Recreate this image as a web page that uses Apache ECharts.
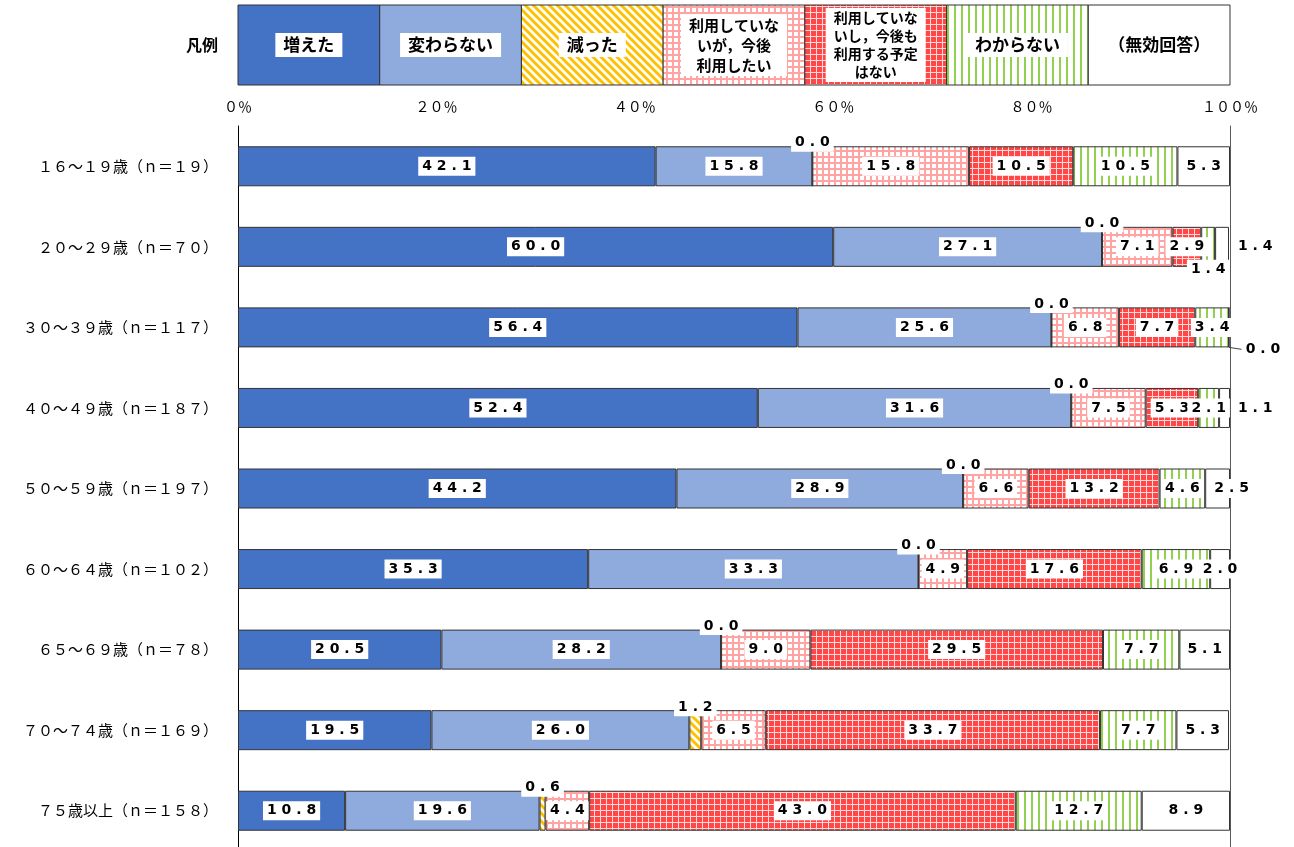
<!DOCTYPE html>
<html><head><meta charset="utf-8">
<script src="https://cdn.jsdelivr.net/npm/echarts@6/dist/echarts.min.js"></script>
<style>html,body{margin:0;padding:0;background:#fff}#c{width:1294px;height:847px}</style>
</head><body><div id="c"></div>
<script>
// ---- data ----
const categories = ['１６～１９歳（ｎ＝１９）','２０～２９歳（ｎ＝７０）','３０～３９歳（ｎ＝１１７）','４０～４９歳（ｎ＝１８７）','５０～５９歳（ｎ＝１９７）','６０～６４歳（ｎ＝１０２）','６５～６９歳（ｎ＝７８）','７０～７４歳（ｎ＝１６９）','７５歳以上（ｎ＝１５８）'];
const seriesNames = ['増えた','変わらない','減った','利用していないが，今後利用したい','利用していないし，今後も利用する予定はない','わからない','（無効回答）'];
const legendTexts = ['増えた','変わらない','減った','利用していな\nいが，今後\n利用したい','利用していな\nいし，今後も\n利用する予定\nはない','わからない','（無効回答）'];
const increased = [42.1, 60.0, 56.4, 52.4, 44.2, 35.3, 20.5, 19.5, 10.8];
const unchanged = [15.8, 27.1, 25.6, 31.6, 28.9, 33.3, 28.2, 26.0, 19.6];
const decreased = [0.0, 0.0, 0.0, 0.0, 0.0, 0.0, 0.0, 1.2, 0.6];
const wantToUse = [15.8, 7.1, 6.8, 7.5, 6.6, 4.9, 9.0, 6.5, 4.4];
const noPlan = [10.5, 2.9, 7.7, 5.3, 13.2, 17.6, 29.5, 33.7, 43.0];
const unknown = [10.5, 1.4, 3.4, 2.1, 4.6, 6.9, 7.7, 7.7, 12.7];
const invalid = [5.3, 1.4, 0.0, 1.1, 2.5, 2.0, 5.1, 5.3, 8.9];
const tickLabels = ['０％','２０％','４０％','６０％','８０％','１００％'];
const allValues = [increased, unchanged, decreased, wantToUse, noPlan, unknown, invalid];

// ---- patterns ----
function mk(w, h, draw) { const c = document.createElement('canvas'); c.width = w; c.height = h; const g = c.getContext('2d'); draw(g, w, h); return c; }
const stripe = mk(8, 8, (g, w, h) => {
  g.fillStyle = '#fff'; g.fillRect(0, 0, w, h);
  g.strokeStyle = '#FFC000'; g.lineWidth = 3;
  for (let k = -1; k <= 1; k++) { g.beginPath(); g.moveTo(k * 8 - 2, -2); g.lineTo(k * 8 + 10, 10); g.stroke(); }
});
const pinkGrid = mk(6, 6, (g, w, h) => {
  g.fillStyle = '#fff'; g.fillRect(0, 0, w, h);
  g.fillStyle = '#FFA3A3'; g.fillRect(0, 0, w, 2); g.fillRect(0, 0, 2, h);
});
const redGrid = mk(6, 6, (g, w, h) => {
  g.fillStyle = '#FF4747'; g.fillRect(0, 0, w, h);
  g.fillStyle = '#FFDADA'; g.fillRect(0, 0, w, 1); g.fillRect(0, 0, 1, h);
});
const greenLines = mk(7, 4, (g, w, h) => {
  g.fillStyle = '#fff'; g.fillRect(0, 0, w, h);
  g.fillStyle = '#92D050'; g.fillRect(2, 0, 2, h);
});
const fills = [
  '#4472C4', '#8FAADC',
  { image: stripe, repeat: 'repeat' },
  { image: pinkGrid, repeat: 'repeat' },
  { image: redGrid, repeat: 'repeat' },
  { image: greenLines, repeat: 'repeat' },
  '#FFFFFF'
];

// ---- label helpers ----
function fmt(p) { return Number(p.value).toFixed(1).split('').join(' '); }
const baseLabel = {
  show: true, position: 'inside', color: '#000', fontWeight: 'bold', fontSize: 14,
  fontFamily: 'DejaVu Sans', backgroundColor: '#fff', padding: [3, 4, 2, 4], formatter: fmt
};
// per-item overrides (series index -> data index -> item opts)
const itemOverrides = {
  2: Object.fromEntries(categories.map((_, i) => [i, { label: { position: 'top', distance: -6 } }])),
  5: { 1: { label: { position: 'bottom', distance: -7 } } },
  6: {
    1: { label: { position: 'right', distance: 5 } },
    2: { labelLine: { show: true, lineStyle: { color: '#404040', width: 1 } } },
    3: { label: { position: 'right', distance: 4 } }
  }
};
const moves = { 6: { 2: { dx: 34, dy: 22 }, 4: { dx: 14 } } };

const series = allValues.map((vals, si) => ({
  name: seriesNames[si], type: 'bar', stack: 'total', barWidth: 40,
  itemStyle: { color: fills[si], borderColor: '#333', borderWidth: 1 },
  label: baseLabel,
  labelLine: { show: false },
  labelLayout: function (p) { return (moves[si] && moves[si][p.dataIndex]) || {}; },
  emphasis: { disabled: true },
  data: vals.map((v, di) => {
    const o = itemOverrides[si] && itemOverrides[si][di];
    return o ? Object.assign({ value: v }, o) : v;
  })
}));

// ---- legend (drawn as graphic boxes) ----
const lgLeft = 238, lgWidth = 992, lgTop = 5, lgH = 80, n = seriesNames.length, bw = lgWidth / n;
const legendFonts = [17, 17, 17, 15, 14, 17, 17];
const legendLH = [22, 22, 22, 20, 18, 22, 22];
const graphics = [{
  type: 'text', x: 218, y: 45,
  style: { text: '凡例', font: 'bold 16px "Noto Sans CJK JP"', fill: '#000', align: 'right', verticalAlign: 'middle' }
}];
legendTexts.forEach((t, i) => {
  graphics.push({ type: 'rect', shape: { x: lgLeft + i * bw, y: lgTop, width: bw, height: lgH },
    style: { fill: fills[i], stroke: '#333', lineWidth: 1 } });
  graphics.push({ type: 'text', x: lgLeft + i * bw + bw / 2, y: lgTop + lgH / 2,
    style: { text: t, font: 'bold ' + legendFonts[i] + 'px "Noto Sans CJK JP"', lineHeight: legendLH[i], fill: '#000',
      align: 'center', verticalAlign: 'middle', backgroundColor: '#fff', padding: [1, 8, 1, 8] } });
});

const chart = echarts.init(document.getElementById('c'), null, { renderer: 'canvas' });
chart.setOption({
  animation: false,
  backgroundColor: '#fff',
  textStyle: { fontFamily: 'Noto Sans CJK JP' },
  grid: { left: 238, right: 64, top: 126, height: 725, outerBoundsMode: 'none' },
  xAxis: {
    type: 'value', position: 'top', min: 0, max: 100, interval: 20,
    axisLine: { show: false }, axisTick: { show: false }, splitLine: { show: false },
    axisLabel: { margin: 12, fontSize: 14, color: '#000', fontFamily: 'Noto Sans CJK JP',
      formatter: v => tickLabels[Math.round(v / 20)] }
  },
  yAxis: [{
    type: 'category', inverse: true, data: categories,
    axisLine: { show: true, lineStyle: { color: '#000', width: 1 } }, axisTick: { show: false },
    axisLabel: { margin: 20, fontSize: 15, color: '#000', fontFamily: 'Noto Sans CJK JP' }
  }, {
    type: 'category', inverse: true, data: categories, position: 'right',
    axisLine: { show: true, lineStyle: { color: '#595959', width: 1 } }, axisTick: { show: false },
    axisLabel: { show: false }
  }],
  graphic: graphics,
  series: series
});
</script>
</body></html>
